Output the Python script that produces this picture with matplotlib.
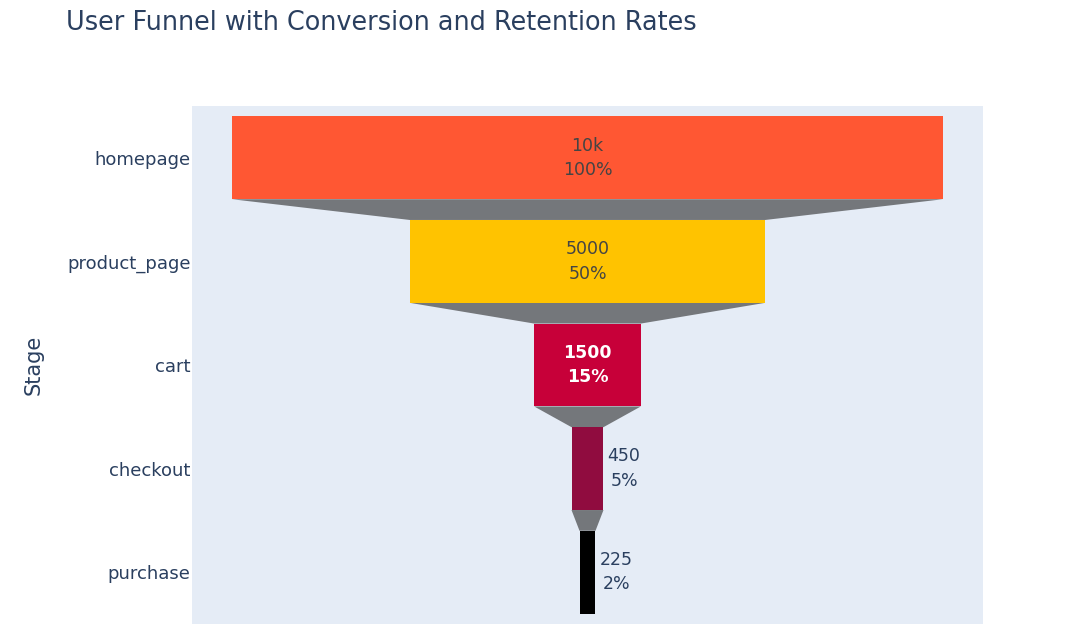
import matplotlib.pyplot as plt
from matplotlib.patches import Polygon

stages = ["homepage", "product_page", "cart", "checkout", "purchase"]
users = [10000, 5000, 1500, 450, 225]
labels = ["10k", "5000", "1500", "450", "225"]
percents = ["100%", "50%", "15%", "5%", "2%"]
colors = ["#FF5733", "#FFC300", "#C70039", "#900C3F", "#000000"]

plt.rcParams['font.family'] = ['DejaVu Sans']

fig = plt.figure(figsize=(10.91, 6.43), dpi=100)
ax = fig.add_axes([192 / 1091, 1 - 624 / 643, 791 / 1091, 518 / 643])
ax.set_facecolor("#E5ECF6")

bar_h = 0.8
ypos = list(range(len(stages)))
lefts = [-u / 2 for u in users]
ax.barh(ypos, users, left=lefts, height=bar_h, color=colors, zorder=2)

# connectors between the stages
for i in range(len(users) - 1):
    a = users[i] / 2
    b = users[i + 1] / 2
    y0 = i + bar_h / 2
    y1 = i + 1 - bar_h / 2
    ax.add_patch(Polygon([(-a, y0), (a, y0), (b, y1), (-b, y1)],
                         closed=True, facecolor="#74777b", edgecolor="none", zorder=1))

text_colors = ["#444444", "#444444", "white", "#2a3f5f", "#2a3f5f"]
inside = [True, True, True, False, False]
for i in range(len(stages)):
    s = labels[i] + "\n" + percents[i]
    if inside[i]:
        ax.text(0, i, s, ha="center", va="center", multialignment="center",
                fontsize=12.5, color=text_colors[i], linespacing=1.45,
                fontweight="bold" if text_colors[i] == "white" else "normal", zorder=3)
    else:
        ax.annotate(s, (users[i] / 2, i), xytext=(3, 0), textcoords="offset points",
                    ha="left", va="center", multialignment="center",
                    fontsize=12.5, color=text_colors[i], linespacing=1.45, zorder=3)

half = 791 / 2 / (711 / 10000)
ax.set_xlim(-half, half)
ax.set_ylim(len(stages) - 0.5, -0.5)
ax.set_yticks(ypos)
ax.set_yticklabels(stages, fontsize=13, color="#2a3f5f")
ax.tick_params(axis="y", length=0, pad=1)
ax.set_xticks([])
for sp in ax.spines.values():
    sp.set_visible(False)
ax.set_ylabel("Stage", fontsize=15, color="#2a3f5f", labelpad=17)

fig.text(66 / 1091, 1 - 23 / 643, "User Funnel with Conversion and Retention Rates",
         fontsize=18.4, color="#2a3f5f", ha="left", va="center")

fig.savefig("out.png", dpi=100)
